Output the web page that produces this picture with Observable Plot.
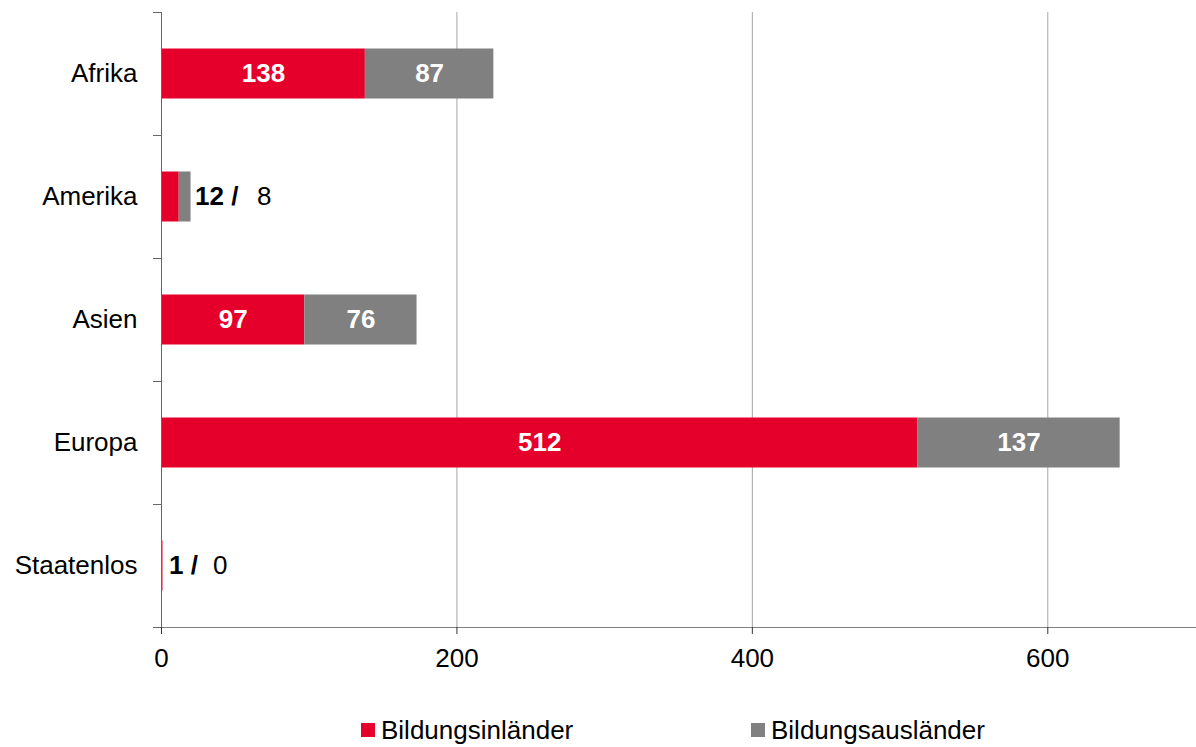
<!DOCTYPE html>
<html>
<head>
<meta charset="utf-8">
<script src="https://cdn.jsdelivr.net/npm/d3@7"></script>
<script src="https://cdn.jsdelivr.net/npm/@observablehq/plot@0.6"></script>
<style>
  body { margin: 0; background: #fff; font-family: "Liberation Sans", Arial, sans-serif; }
  #legend { position: relative; height: 57px; font-size: 26px; color: #000; }
  .item { position: absolute; top: 25px; display: flex; align-items: center; white-space: nowrap; line-height: 30px; }
  .sw { width: 14px; height: 14px; margin-right: 6px; }
</style>
</head>
<body>
<div id="chart"></div>
<div id="legend"></div>
<script>
const regions = ["Afrika", "Amerika", "Asien", "Europa", "Staatenlos"];
const inlaender = [138, 12, 97, 512, 1];
const auslaender = [87, 8, 76, 137, 0];
const seriesNames = ["Bildungsinländer", "Bildungsausländer"];
const seriesColors = ["#e5002b", "#808080"];
const xTicks = [0, 200, 400, 600];
const insideLabeled = ["Afrika", "Asien", "Europa"];

const long = [];
regions.forEach((r, i) => {
  long.push({region: r, type: seriesNames[0], value: inlaender[i]});
  long.push({region: r, type: seriesNames[1], value: auslaender[i]});
});
const totals = regions.map((r, i) => ({region: r, inl: inlaender[i], aus: auslaender[i], total: inlaender[i] + auslaender[i]}));

const boundaryTicks = (index, scales, values, dimensions) => {
  const y = scales.y;
  const g = d3.create("svg:g").attr("stroke", "#666").attr("stroke-width", 1);
  const ys = regions.map(r => y(r));
  ys.push(y(regions[regions.length - 1]) + y.bandwidth());
  for (const v of ys) {
    g.append("line")
      .attr("x1", dimensions.marginLeft - 8).attr("x2", dimensions.marginLeft)
      .attr("y1", Math.round(v) + 0.5).attr("y2", Math.round(v) + 0.5);
  }
  return g.node();
};

const chart = Plot.plot({
  width: 1196,
  height: 690,
  marginLeft: 161,
  marginRight: 1,
  marginTop: 12,
  marginBottom: 63,
  style: {fontFamily: "'Liberation Sans', Arial, sans-serif", fontSize: "26px", color: "#000", background: "#fff"},
  x: {domain: [0, 700], ticks: xTicks, label: null},
  y: {domain: regions, padding: 0, label: null},
  color: {domain: seriesNames, range: seriesColors},
  marks: [
    Plot.gridX(xTicks.filter(t => t > 0), {stroke: "#a6a6a6", strokeOpacity: 1}),
    Plot.barX(long, Plot.stackX({x: "value", y: "region", fill: "type", insetTop: 36.5, insetBottom: 36.5})),
    Plot.text(long, Plot.stackX({x: "value", y: "region", z: "type",
      text: d => insideLabeled.includes(d.region) ? String(d.value) : null,
      fill: "#fff", fontWeight: "bold", fontSize: 26})),
    Plot.text(totals.filter(d => d.region === "Amerika"), {
      x: "total", y: "region", text: d => `${d.inl} /`, textAnchor: "start", dx: 4,
      fontWeight: "bold", fill: "#000", fontSize: 26}),
    Plot.text(totals.filter(d => d.region === "Staatenlos"), {
      x: "total", y: "region", text: d => `${d.inl} /`, textAnchor: "start", dx: 6,
      fontWeight: "bold", fill: "#000", fontSize: 26}),
    Plot.text(totals.filter(d => d.region === "Amerika"), {
      x: "total", y: "region", text: d => String(d.aus), textAnchor: "start", dx: 66, fill: "#000", fontSize: 26}),
    Plot.text(totals.filter(d => d.region === "Staatenlos"), {
      x: "total", y: "region", text: d => String(d.aus), textAnchor: "start", dx: 50, fill: "#000", fontSize: 26}),
    Plot.frame({anchor: "left", stroke: "#666"}),
    Plot.frame({anchor: "bottom", stroke: "#808080"}),
    boundaryTicks,
    Plot.axisX({ticks: xTicks, tickSize: 7, tickPadding: 14, stroke: "#333", fontSize: 26, label: null}),
    Plot.axisY({tickSize: 0, tickPadding: 24, fontSize: 26, label: null})
  ]
});
document.getElementById("chart").append(chart);

const legend = document.getElementById("legend");
const lefts = [361, 751];
seriesNames.forEach((name, i) => {
  const item = document.createElement("div");
  item.className = "item";
  item.style.left = lefts[i] + "px";
  const sw = document.createElement("span");
  sw.className = "sw";
  sw.style.background = seriesColors[i];
  const t = document.createElement("span");
  t.textContent = name;
  item.append(sw, t);
  legend.append(item);
});
</script>
</body>
</html>
